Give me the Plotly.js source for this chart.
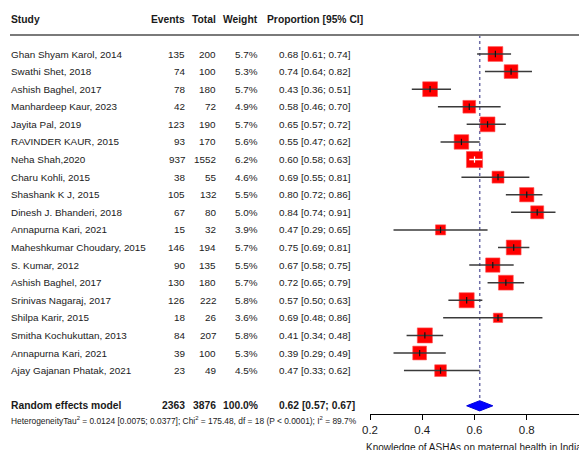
<!DOCTYPE html>
<html>
<head>
<meta charset="utf-8">
<script src="https://cdn.plot.ly/plotly-3.0.1.min.js"></script>
<style>
  html, body { margin: 0; padding: 0; background: #ffffff; }
  #chart { width: 579px; height: 450px; }
</style>
</head>
<body>
<div id="chart"></div>
<script>
// ---------------- DATA ----------------
const studies = [
  "Ghan Shyam Karol, 2014", "Swathi Shet, 2018", "Ashish Baghel, 2017",
  "Manhardeep Kaur, 2023", "Jayita Pal, 2019", "RAVINDER KAUR, 2015",
  "Neha Shah,2020", "Charu Kohli, 2015", "Shashank K J, 2015",
  "Dinesh J. Bhanderi, 2018", "Annapurna Kari, 2021", "Maheshkumar Choudary, 2015",
  "S. Kumar, 2012", "Ashish Baghel, 2017", "Srinivas Nagaraj, 2017",
  "Shilpa Karir, 2015", "Smitha Kochukuttan, 2013", "Annapurna Kari, 2021",
  "Ajay Gajanan Phatak, 2021"
];
const events  = [135, 74, 78, 42, 123, 93, 937, 38, 105, 67, 15, 146, 90, 130, 126, 18, 84, 39, 23];
const totals  = [200, 100, 180, 72, 190, 170, 1552, 55, 132, 80, 32, 194, 135, 180, 222, 26, 207, 100, 49];
const weights = [5.7, 5.3, 5.7, 4.9, 5.7, 5.6, 6.2, 4.6, 5.5, 5.0, 3.9, 5.7, 5.5, 5.7, 5.8, 3.6, 5.8, 5.3, 4.5];
const proportions = [0.68, 0.74, 0.43, 0.58, 0.65, 0.55, 0.60, 0.69, 0.80, 0.84, 0.47, 0.75, 0.67, 0.72, 0.57, 0.69, 0.41, 0.39, 0.47];
const lowerCI = [0.61, 0.64, 0.36, 0.46, 0.57, 0.47, 0.58, 0.55, 0.72, 0.74, 0.29, 0.69, 0.58, 0.65, 0.50, 0.48, 0.34, 0.29, 0.33];
const upperCI = [0.74, 0.82, 0.51, 0.70, 0.72, 0.62, 0.63, 0.81, 0.86, 0.91, 0.65, 0.81, 0.75, 0.79, 0.63, 0.86, 0.48, 0.49, 0.62];

const pooledLabel = "Random effects model";
const pooledEvents = 2363;
const pooledTotal = 3876;
const pooledWeight = 100.0;
const pooledEstimate = 0.62;
const pooledLower = 0.57;
const pooledUpper = 0.67;

const headers = ["Study", "Events", "Total", "Weight", "Proportion [95% CI]"];
const tickValues = [0.2, 0.4, 0.6, 0.8, 1.0];
const tickLabels = ["0.2", "0.4", "0.6", "0.8", "1"];
const heterogeneityText = "HeterogeneityTau<sup>2</sup> = 0.0124 [0.0075; 0.0377]; Chi<sup>2</sup> = 175.48, df = 18 (P &lt; 0.0001); I<sup>2</sup> = 89.7%";
const xAxisTitle = "Knowledge of ASHAs on maternal health in India";

// ---------------- LAYOUT CONSTANTS ----------------
const W = 579, H = 450;
const FONT = "'Liberation Sans', Arial, sans-serif";
const TXT = "#1a1a1a";
const FS = 9.9, FSB = 10.3;
const plotBottomPx = 414;          // axis line
const rowTopPx = 54, rowStep = 17.59;
const yTop = -rowTopPx / rowStep;
const yBottom = (plotBottomPx - rowTopPx) / rowStep;
const xMin = 0.2, xMax = 1.0;
const forestLeftPx = 370;
const pxPerUnit = (W - forestLeftPx) / (xMax - xMin);
const px = v => v / W;                           // pixel -> paper x
const pyPaper = v => 1 - v / plotBottomPx;       // pixel -> paper y

const colStudy = 10, colEvents = 186, colTotal = 217, colWeight = 259, colProp = 278, colPropHead = 266;
const headerRow = -1.99, lineRow = -1.08, pooledRow = 20;
const sizeFactor = 2.6;

const fmt2 = v => v.toFixed(2);
const ciText = (p, l, u) => `${fmt2(p)} [${fmt2(l)}; ${fmt2(u)}]`;

// ---------------- ANNOTATIONS (table) ----------------
const annotations = [];
function addText(text, xPx, y, anchor, size) {
  annotations.push({
    text: text, x: px(xPx), xref: "paper", y: y, yref: "y",
    xanchor: anchor, yanchor: "middle", showarrow: false, borderpad: 0,
    font: { family: FONT, size: size || FS, color: TXT }
  });
}
addText("<b>" + headers[0] + "</b>", colStudy, headerRow, "left", FSB);
addText("<b>" + headers[1] + "</b>", colEvents, headerRow, "right", FSB);
addText("<b>" + headers[2] + "</b>", colTotal, headerRow, "right", FSB);
addText("<b>" + headers[3] + "</b>", colWeight, headerRow, "right", FSB);
addText("<b>" + headers[4] + "</b>", colPropHead, headerRow, "left", FSB);

studies.forEach((s, i) => {
  addText(s, colStudy, i, "left");
  addText(String(events[i]), colEvents, i, "right");
  addText(String(totals[i]), colTotal, i, "right");
  addText(weights[i].toFixed(1) + "%", colWeight, i, "right");
  addText(ciText(proportions[i], lowerCI[i], upperCI[i]), colProp, i, "left");
});

addText("<b>" + pooledLabel + "</b>", colStudy, pooledRow, "left", FSB);
addText("<b>" + pooledEvents + "</b>", colEvents, pooledRow, "right", FSB);
addText("<b>" + pooledTotal + "</b>", colTotal, pooledRow, "right", FSB);
addText("<b>" + pooledWeight.toFixed(1) + "%</b>", colWeight, pooledRow, "right", FSB);
addText("<b>" + ciText(pooledEstimate, pooledLower, pooledUpper) + "</b>", colProp, pooledRow, "left", FSB);

annotations.push({
  text: heterogeneityText, x: px(colStudy), xref: "paper", y: pyPaper(420.5), yref: "paper",
  xanchor: "left", yanchor: "middle", showarrow: false, borderpad: 0,
  font: { family: FONT, size: 8.4, color: TXT }
});
annotations.push({
  text: xAxisTitle, x: px(365), xref: "paper", y: pyPaper(448), yref: "paper",
  xanchor: "left", yanchor: "middle", showarrow: false, borderpad: 0,
  font: { family: FONT, size: 10, color: TXT }
});

// ---------------- TRACES ----------------
const sizes = weights.map(w => w * sizeFactor);
const rows = studies.map((_, i) => i);
const insideBox = rows.map(i => (upperCI[i] - lowerCI[i]) * pxPerUnit < sizes[i]);

// CI segments: dark when outside the box, white when contained within it
const darkX = [], darkY = [], whiteX = [], whiteY = [];
rows.forEach(i => {
  const tx = insideBox[i] ? whiteX : darkX, ty = insideBox[i] ? whiteY : darkY;
  tx.push(lowerCI[i], upperCI[i], null);
  ty.push(i, i, null);
});

const traces = [
  { // reference line at pooled estimate
    x: [pooledEstimate, pooledEstimate], y: [lineRow, pooledRow - 0.28],
    mode: "lines", line: { color: "#6f6fa8", width: 1.5, dash: "dot" },
    hoverinfo: "skip", showlegend: false
  },
  { // weighted squares
    x: proportions, y: rows, mode: "markers",
    marker: { symbol: "square", size: sizes, color: "#ff0000", opacity: 1,
              line: { color: "#ff5050", width: 0.6 } },
    hoverinfo: "skip", showlegend: false
  },
  {
    x: darkX, y: darkY, mode: "lines", line: { color: "#3a3a3a", width: 1.5 },
    hoverinfo: "skip", showlegend: false
  },
  {
    x: whiteX, y: whiteY, mode: "lines", line: { color: "#ffffff", width: 1.5 },
    hoverinfo: "skip", showlegend: false
  },
  { // point estimate tick marks
    x: proportions, y: rows, mode: "markers",
    marker: { symbol: "line-ns", size: 4.5,
              line: { color: insideBox.map(b => b ? "#ffffff" : "#111111"), width: 1.2 } },
    hoverinfo: "skip", showlegend: false
  },
  { // pooled diamond
    x: [pooledLower, pooledEstimate, pooledUpper, pooledEstimate, pooledLower],
    y: [pooledRow, pooledRow - 0.29, pooledRow, pooledRow + 0.29, pooledRow],
    mode: "lines", fill: "toself", fillcolor: "#0000ff",
    line: { color: "#0000dd", width: 1 },
    hoverinfo: "skip", showlegend: false
  }
];

// ---------------- LAYOUT ----------------
const layout = {
  width: W, height: H,
  margin: { l: 0, r: 0, t: 0, b: H - plotBottomPx, pad: 0 },
  paper_bgcolor: "#ffffff", plot_bgcolor: "rgba(0,0,0,0)",
  showlegend: false,
  font: { family: FONT, color: TXT },
  xaxis: {
    domain: [forestLeftPx / W, 1], range: [xMin, xMax],
    tickmode: "array", tickvals: tickValues, ticktext: tickLabels,
    showgrid: false, zeroline: false, showline: true, linecolor: "#000000", linewidth: 1,
    ticks: "outside", ticklen: 5, tickcolor: "#000000", tickwidth: 1,
    tickfont: { family: FONT, size: 11.5, color: TXT },
    fixedrange: true
  },
  yaxis: {
    range: [yBottom, yTop], visible: false, showgrid: false, zeroline: false,
    fixedrange: true
  },
  shapes: [{
    type: "line", xref: "paper", yref: "y", x0: px(colStudy), x1: 1,
    y0: lineRow, y1: lineRow, line: { color: "#7a7a7a", width: 2 }
  }],
  annotations: annotations
};

Plotly.newPlot("chart", traces, layout, { displayModeBar: false, staticPlot: true });
</script>
</body>
</html>
